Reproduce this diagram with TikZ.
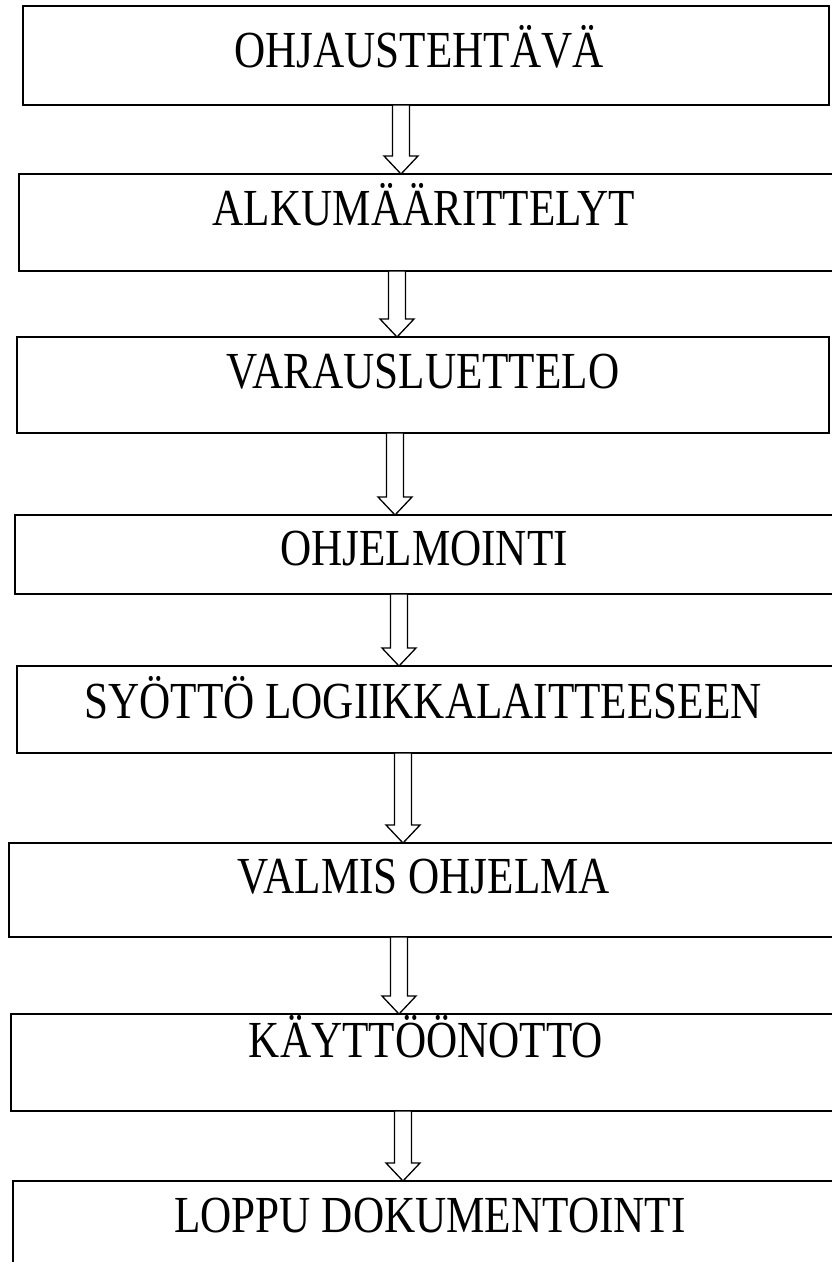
\documentclass[tikz,border=0pt]{standalone}
\usepackage{fontspec}
\setmainfont[FakeStretch=0.83]{Liberation Serif}
\usetikzlibrary{calc}

\tikzset{
  stagebox/.style={draw=black, line width=1.6pt, fill=white, rectangle,
    inner sep=0pt, outer sep=0pt, anchor=north west},
  stagetext/.style={anchor=base, inner sep=0pt,
    font=\fontsize{52pt}{60pt}\selectfont},
  hollowarrow/.style={draw=black, line width=1.3pt, fill=white, line join=miter,
    to path={let \p1=(\tikztostart), \p2=(\tikztotarget) in
      (\x1-8.5pt,\y1) -- (\x1-8.5pt,\y2+18pt) -- (\x1-17pt,\y2+18pt) --
      (\x2,\y2) -- (\x1+17pt,\y2+18pt) -- (\x1+8.5pt,\y2+18pt) --
      (\x1+8.5pt,\y1) -- cycle}}
}

\begin{document}
\begin{tikzpicture}[x=1pt,y=-1pt]
  \clip (0,0) rectangle (832,1262);
  \fill[white] (0,0) rectangle (832,1262);

  % process stages, top to bottom
  \node[stagebox, minimum width=806pt, minimum height=99pt] (b1) at (23,6) {};
  \node[stagebox, minimum width=821pt, minimum height=97pt] (b2) at (19,174) {};
  \node[stagebox, minimum width=812pt, minimum height=96pt] (b3) at (17,337) {};
  \node[stagebox, minimum width=825pt, minimum height=79pt] (b4) at (15,515) {};
  \node[stagebox, minimum width=823pt, minimum height=87pt] (b5) at (17,666) {};
  \node[stagebox, minimum width=831pt, minimum height=94pt] (b6) at (9,843) {};
  \node[stagebox, minimum width=829pt, minimum height=97pt] (b7) at (11,1014) {};
  \node[stagebox, minimum width=827pt, minimum height=119pt] (b8) at (13,1181) {};

  % stage titles
  \node[stagetext] (t1) at (419,67) {OHJAUSTEHTÄVÄ};
  \node[stagetext] (t2) at (424,225) {ALKUMÄÄRITTELYT};
  \node[stagetext] (t3) at (423,388) {VARAUSLUETTELO};
  \node[stagetext] (t4) at (424,565) {OHJELMOINTI};
  \node[stagetext] (t5) at (423,718) {SYÖTTÖ LOGIIKKALAITTEESEEN};
  \node[stagetext] (t6) at (424,893) {VALMIS OHJELMA};
  \node[stagetext] (t7) at (426,1057) {KÄYTTÖÖNOTTO};
  \node[stagetext] (t8) at (430,1232) {LOPPU DOKUMENTOINTI};

  % horizontal positions of the block arrows
  \coordinate (a1) at (401,0);
  \coordinate (a2) at (397,0);
  \coordinate (a3) at (395,0);
  \coordinate (a4) at (399,0);
  \coordinate (a5) at (403,0);
  \coordinate (a6) at (399,0);
  \coordinate (a7) at (403,0);

  % block arrows between stages
  \draw[hollowarrow] (b1.south -| a1) to (b2.north -| a1);
  \draw[hollowarrow] (b2.south -| a2) to (b3.north -| a2);
  \draw[hollowarrow] (b3.south -| a3) to (b4.north -| a3);
  \draw[hollowarrow] (b4.south -| a4) to (b5.north -| a4);
  \draw[hollowarrow] (b5.south -| a5) to (b6.north -| a5);
  \draw[hollowarrow] (b6.south -| a6) to (b7.north -| a6);
  \draw[hollowarrow] (b7.south -| a7) to (b8.north -| a7);
\end{tikzpicture}
\end{document}
